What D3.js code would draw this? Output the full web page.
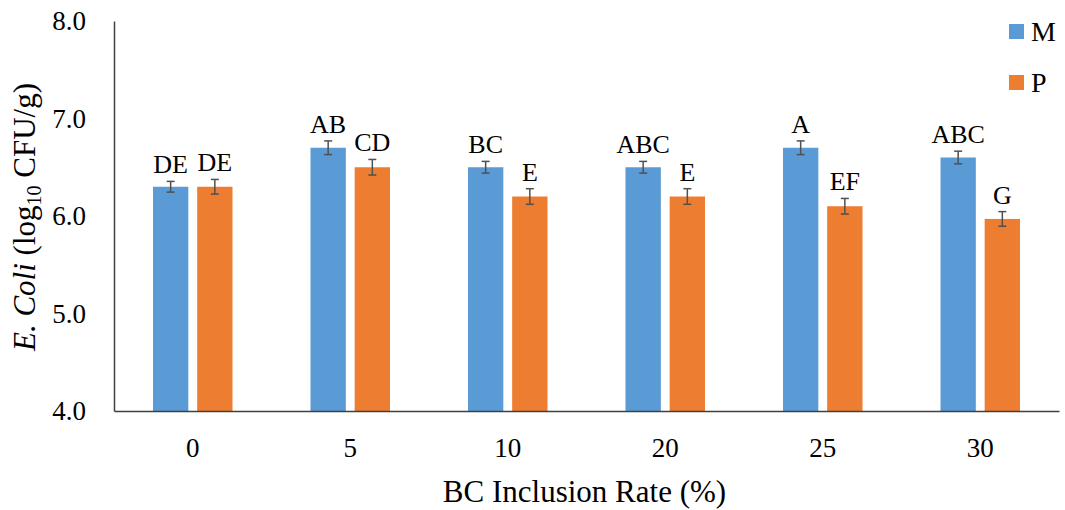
<!DOCTYPE html>
<html>
<head>
  <script src="https://d3js.org/d3.v7.min.js"></script>
  <style>
    body { margin: 0; background: #fff; }
    svg text { font-family: "Liberation Serif", "Times New Roman", serif; fill: #000; }
  </style>
</head>
<body>
<svg width="1065" height="510"></svg>
<script>
  // data
  const categories = ["0", "5", "10", "20", "25", "30"];
  const series = ["M", "P"];
  const valuesM = [6.30, 6.70, 6.50, 6.50, 6.70, 6.60];
  const valuesP = [6.30, 6.50, 6.20, 6.20, 6.10, 5.97];
  const errM = [0.055, 0.07, 0.06, 0.06, 0.07, 0.065];
  const errP = [0.075, 0.08, 0.08, 0.08, 0.08, 0.075];
  const lettersM = ["DE", "AB", "BC", "ABC", "A", "ABC"];
  const lettersP = ["DE", "CD", "E", "E", "EF", "G"];
  const yTicks = [4.0, 5.0, 6.0, 7.0, 8.0];
  const colors = { M: "#5B9BD5", P: "#ED7D31" };

  const serif = "'Liberation Serif', 'Times New Roman', serif";
  const svg = d3.select("svg");
  const plotLeft = 114, plotRight = 1059, plotTop = 21, plotBottom = 411;

  const x0 = d3.scaleBand().domain(categories).range([plotLeft, plotRight]).padding(0);
  const x1 = d3.scaleBand().domain(series).range([39, x0.bandwidth() - 39]).paddingInner(0.2);
  const y = d3.scaleLinear().domain([4, 8]).range([plotBottom, plotTop]);

  const rows = [];
  categories.forEach((c, i) => {
    rows.push({ cat: c, s: "M", v: valuesM[i], e: errM[i], lab: lettersM[i] });
    rows.push({ cat: c, s: "P", v: valuesP[i], e: errP[i], lab: lettersP[i] });
  });

  // bars
  svg.selectAll(".bar")
    .data(rows)
    .enter()
    .append("rect")
    .attr("class", "bar")
    .attr("x", d => x0(d.cat) + x1(d.s))
    .attr("y", d => y(d.v))
    .attr("width", x1.bandwidth())
    .attr("height", d => y(4) - y(d.v))
    .attr("fill", d => colors[d.s]);

  // error bars
  const cx = d => x0(d.cat) + x1(d.s) + x1.bandwidth() / 2;
  const eg = svg.selectAll(".err").data(rows).enter().append("g").attr("class", "err")
    .attr("stroke", "#505050").attr("stroke-width", 1.5);
  eg.append("line").attr("x1", cx).attr("x2", cx)
    .attr("y1", d => y(d.v + d.e)).attr("y2", d => y(d.v - d.e));
  eg.append("line").attr("x1", d => cx(d) - 4).attr("x2", d => cx(d) + 4)
    .attr("y1", d => y(d.v + d.e)).attr("y2", d => y(d.v + d.e));
  eg.append("line").attr("x1", d => cx(d) - 4).attr("x2", d => cx(d) + 4)
    .attr("y1", d => y(d.v - d.e)).attr("y2", d => y(d.v - d.e));

  // significance letters
  svg.selectAll(".lab")
    .data(rows)
    .enter()
    .append("text")
    .attr("class", "lab")
    .attr("x", cx)
    .attr("y", d => y(d.v + d.e) - 8)
    .attr("text-anchor", "middle")
    .style("font-size", "26px")
    .text(d => d.lab);

  // axes
  const yAxis = svg.append("g")
    .attr("transform", "translate(" + plotLeft + ",0)")
    .call(d3.axisLeft(y).tickValues(yTicks).tickFormat(d3.format(".1f")).tickSize(0).tickPadding(28))
    .attr("font-family", serif);
  yAxis.select(".domain").attr("stroke", "#404040").attr("stroke-width", 1.5);
  yAxis.selectAll("text").style("font-size", "27px").style("font-family", serif);

  const xAxis = svg.append("g")
    .attr("transform", "translate(0," + plotBottom + ")")
    .call(d3.axisBottom(x0).tickSize(0).tickPadding(27))
    .attr("font-family", serif);
  xAxis.select(".domain").attr("stroke", "#404040").attr("stroke-width", 1.5);
  xAxis.selectAll("text").style("font-size", "27px").style("font-family", serif);

  // axis titles
  svg.append("text")
    .attr("x", (plotLeft + plotRight) / 2 - 2)
    .attr("y", 502)
    .attr("text-anchor", "middle")
    .style("font-size", "31px")
    .text("BC Inclusion Rate (%)");

  const yt = svg.append("text")
    .attr("transform", "translate(35," + ((plotTop + plotBottom) / 2 + 1) + ") rotate(-90)")
    .attr("text-anchor", "middle")
    .style("font-size", "31px");
  yt.append("tspan").style("font-style", "italic").text("E. Coli");
  yt.append("tspan").text(" (log");
  yt.append("tspan").attr("dy", 6).style("font-size", "20px").text("10");
  yt.append("tspan").attr("dy", -6).text(" CFU/g)");

  // legend
  const lg = svg.selectAll(".leg").data(series).enter().append("g").attr("class", "leg")
    .attr("transform", (d, i) => "translate(1009," + (24 + i * 51) + ")");
  lg.append("rect").attr("width", 15).attr("height", 15).attr("fill", d => colors[d]);
  lg.append("text").attr("x", 22).attr("y", 17).style("font-size", "28px").text(d => d);
</script>
</body>
</html>
